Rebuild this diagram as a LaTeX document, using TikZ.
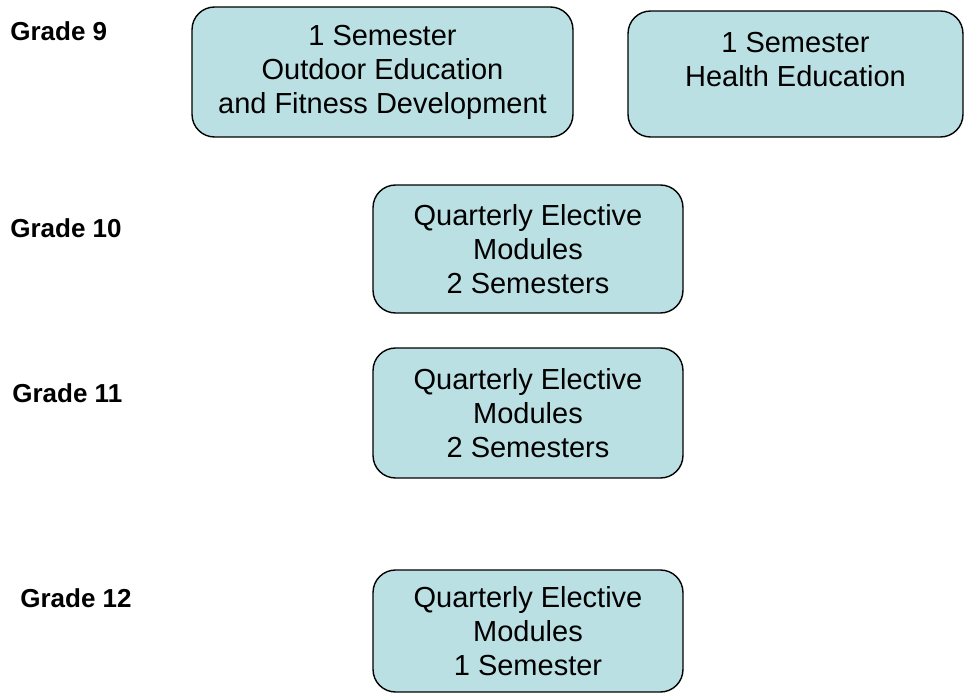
\documentclass[tikz,border=0pt]{standalone}
\usepackage{fontspec}
\setmainfont{Liberation Sans}
\usepackage{xcolor}
\usepackage{tikz}
\usetikzlibrary{positioning}

\definecolor{modfill}{RGB}{187,224,227}

\begin{document}
\begin{tikzpicture}[x=0.02cm, y=-0.02cm,
    module/.style={draw, line width=0.8pt, fill=modfill, rounded corners=0.45cm,
        align=center, inner sep=0pt, font=\fontsize{16.5}{19.3}\selectfont},
    grade/.style={anchor=west, inner sep=0pt, font=\fontsize{14.8}{16}\selectfont\bfseries}]
\useasboundingbox (0,0) rectangle (965,693);

\node[grade] (grade_9) at (10,31) {Grade 9};
\node[grade] (grade_10) at (10,228) {Grade 10};
\node[grade] (grade_11) at (12,393) {Grade 11};
\node[grade] (grade_12) at (20,598) {Grade 12};

\node[module, minimum width=7.62cm, minimum height=2.6cm] (outdoor) at (382.5,72)
    {1 Semester\\Outdoor Education\\and Fitness Development};
\node[module, minimum width=6.7cm, minimum height=2.52cm, text depth=0.6cm] (health) at (795.5,74)
    {1 Semester\\Health Education};
\node[module, minimum width=6.2cm, minimum height=2.56cm] (elective_10) at (528,249)
    {Quarterly Elective\\Modules\\2 Semesters};
\node[module, minimum width=6.2cm, minimum height=2.6cm] (elective_11) at (528,413)
    {Quarterly Elective\\Modules\\2 Semesters};
\node[module, minimum width=6.2cm, minimum height=2.44cm] (elective_12) at (528,631)
    {Quarterly Elective\\Modules\\1 Semester};

\end{tikzpicture}
\end{document}
